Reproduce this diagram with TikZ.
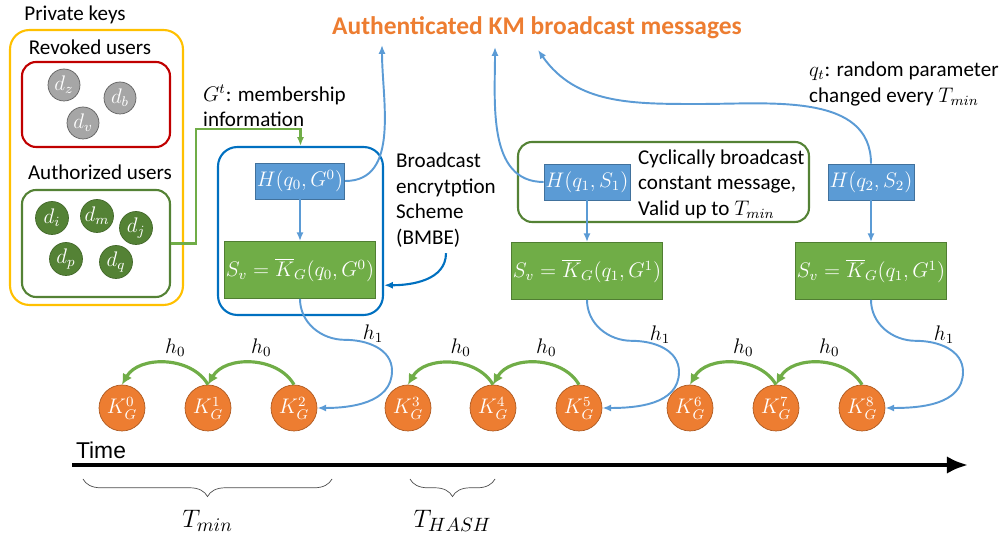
\documentclass[tikz,border=0pt]{standalone}
\usepackage{amsmath}
\usepackage{fontspec}
\setmainfont{Carlito}
\newfontfamily\arialfont{Liberation Sans}
\usepackage{tikz}
\usetikzlibrary{shapes.geometric, arrows.meta, positioning, calc, decorations.pathreplacing}
\definecolor{kmorange}{RGB}{237,125,49}
\definecolor{kmorangedark}{RGB}{174,90,33}
\definecolor{kmblue}{RGB}{91,155,213}
\definecolor{kmbluedark}{RGB}{65,113,156}
\definecolor{kmdeepblue}{RGB}{0,112,192}
\definecolor{kmgreen}{RGB}{112,173,71}
\definecolor{kmgreendark}{RGB}{80,126,50}
\definecolor{kmforest}{RGB}{84,130,53}
\definecolor{kmyellow}{RGB}{255,192,0}
\definecolor{kmred}{RGB}{192,0,0}
\definecolor{kmgray}{RGB}{166,166,166}

\begin{document}
\begin{tikzpicture}[x=0.02cm, y=0.02cm, font=\fontsize{12}{14.5}\selectfont,
  groupbox/.style={draw, line width=1.2pt, rounded corners=8pt},
  hbox/.style={draw=kmbluedark, fill=kmblue, text=white, minimum width=1.7cm, minimum height=0.72cm, inner sep=1pt},
  sbox/.style={draw=kmgreendark, fill=kmgreen, text=white, minimum width=2.95cm, minimum height=1.14cm, inner sep=1pt},
  kcirc/.style={circle, draw=kmorangedark, fill=kmorange, text=white, minimum size=0.92cm, inner sep=0pt},
  revkey/.style={circle, draw=gray!75!black, fill=kmgray, text=white, minimum size=0.64cm, inner sep=0pt},
  authkey/.style={circle, draw=kmforest!80!black, fill=kmforest, text=white, minimum size=0.66cm, inner sep=0pt},
  bline/.style={draw=kmblue, line width=1.1pt, -{Latex[length=5pt,width=4pt]}},
  hline/.style={draw=kmgreen, line width=1.8pt, -{Latex[length=6pt,width=6pt]}}]
\useasboundingbox (0,0) rectangle (1000,550);

% Private keys
\node (privlab) at (75,535) {Private keys};
\node[groupbox, draw=kmyellow, rounded corners=11pt, minimum width=3.46cm, minimum height=5.5cm] (priv) at (96.5,382.5) {};
\node (revlab) at (90,503) {Revoked users};
\node[groupbox, draw=kmred, minimum width=2.96cm, minimum height=1.7cm] (rev) at (96,445.5) {};
\node (authlab) at (100,378) {Authorized users};
\node[groupbox, draw=kmforest, minimum width=2.96cm, minimum height=2.14cm] (auth) at (96,306.5) {};
\foreach \n/\x/\y in {z/64/465, b/120/452, v/83/427} {
    \node[revkey] (d\n) at (\x,\y) {$d_{\n}$};
}
\foreach \n/\x/\y in {i/52/332, m/97/334, j/136/322, p/66/291, q/116/288} {
    \node[authkey] (d\n) at (\x,\y) {$d_{\n}$};
}

% BMBE block
\node[groupbox, draw=kmdeepblue, rounded corners=11pt, minimum width=3.3cm, minimum height=3.36cm] (bmbe) at (300.5,319) {};
\node[hbox] (H0) at (300,369) {$H(q_0,G^0)$};
\node[sbox] (S0) at (300,280) {$S_v=\overline{K}_G(q_0,G^0)$};
\draw[bline] (H0) -- (S0);
\node[anchor=west, align=left] (memlab) at (197,444) {$G^t$: membership\\information};
\draw[draw=kmgreen, line width=1.2pt, -{Latex[length=5pt,width=4pt]}] (auth.east) -- ++(25,0) |- ([yshift=0.34cm]bmbe.north) -- (bmbe.north);
\node[anchor=west, align=left] (bmbelab) at (390,350) {Broadcast\\encrytption\\Scheme\\(BMBE)};
\draw[draw=kmdeepblue, line width=1.2pt, -{Latex[length=5pt,width=4pt]}] (bmbelab.south) to[out=-90,in=0] (bmbe.-33);

% Second and third periods
\node[groupbox, draw=kmforest, minimum width=5.82cm, minimum height=1.6cm] (cyc) at (663.5,368) {};
\node[hbox] (H1) at (587,368) {$H(q_1,S_1)$};
\node[sbox] (S1) at (587,279) {$S_v=\overline{K}_G(q_1,G^1)$};
\draw[bline] (H1) -- (S1);
\node[anchor=west, align=left] (cyclab) at (632,366) {Cyclically broadcast\\constant message,\\Valid up to $T_{min}$};
\node[hbox] (H2) at (871,368) {$H(q_2,S_2)$};
\node[sbox] (S2) at (871,279) {$S_v=\overline{K}_G(q_1,G^1)$};
\draw[bline] (H2) -- (S2);
\node[anchor=west, align=left] (qlab) at (803,466) {$q_t$: random parameter\\changed every $T_{min}$};

% Broadcast messages
\node[text=kmorange, font=\fontsize{14.5}{16}\selectfont\bfseries] (title) at (537,522) {Authenticated KM broadcast messages};
\coordinate (m0) at (382,505);
\coordinate (m1) at (495,503);
\coordinate (m2) at (538,500);
\draw[bline] (H0.east) to[out=0,in=-90] (m0);
\draw[bline] (H1.west) to[out=180,in=-90] (m1);
\draw[bline] (H2.north) to[out=90,in=0] (700,446) to[out=180,in=-55] (m2);

% Key chain
\foreach \n/\x in {0/122, 1/208, 2/294, 3/408, 4/493, 5/579, 6/690, 7/776, 8/862} {
    \node[kcirc] (K\n) at (\x,142) {$K_G^{\n}$};
}
\foreach \a/\b in {1/0, 2/1, 4/3, 5/4, 7/6, 8/7} {
    \draw[hline] (K\a.north) to[out=120,in=60] node[above, pos=0.4, text=black] {$h_0$} (K\b.north);
}
\foreach \s/\k in {S0/K2, S1/K5, S2/K8} {
    \draw[bline] (\s.south) to[out=-90,in=180] ($(\s.south)+(45,-41)$) to[out=0,in=90] ($(\s.south)+(92,-72)$) to[out=-90,in=0] (\k.east);
    \node at ($(\s.south)+(73,-35)$) {$h_1$};
}

% Time axis
\coordinate (tstart) at (72,85);
\coordinate (tend) at (968,85);
\draw[line width=2.4pt, -{Latex[length=12pt,width=10pt]}] (tstart) -- (tend);
\node[font=\arialfont\fontsize{13}{15}\selectfont] (timelab) at (101,100) {Time};
\draw[gray!60!black, decorate, decoration={brace, mirror, amplitude=10pt}] (83,71) -- (332,71) node[midway, below=14pt, text=black, font=\fontsize{15}{17}\selectfont] (tmin) {$T_{min}$};
\draw[gray!60!black, decorate, decoration={brace, mirror, amplitude=10pt}] (410,71) -- (495,71) node[midway, below=14pt, text=black, font=\fontsize{15}{17}\selectfont] (thash) {$T_{HASH}$};
\end{tikzpicture}
\end{document}
